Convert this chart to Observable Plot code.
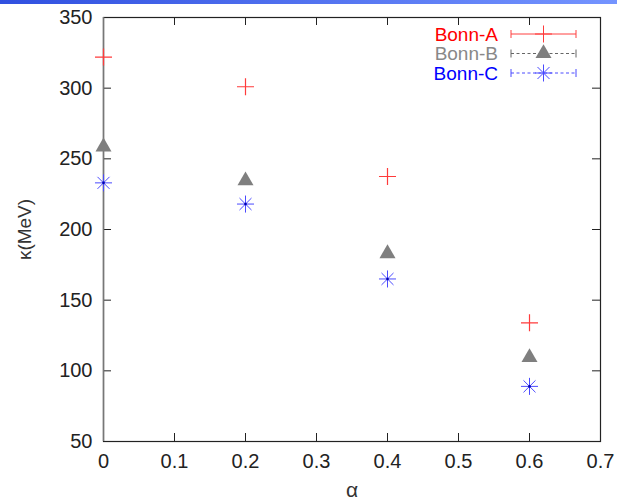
<!DOCTYPE html>
<html><head><meta charset="utf-8">
<script src="https://cdn.jsdelivr.net/npm/d3@7"></script>
<script src="https://cdn.jsdelivr.net/npm/@observablehq/plot@0.6"></script>
<style>
body{margin:0;background:#fff;}
#wrap{position:relative;width:617px;height:500px;overflow:hidden;background:#fff;}
#banner{position:absolute;left:0;top:0;width:617px;height:4px;background:linear-gradient(to right,#3050e0,#7494ff);}
#wrap svg{position:absolute;left:0;top:0;}
</style></head><body><div id="wrap"><div id="banner"></div></div>
<script>
const alphas = [0, 0.2, 0.4, 0.6];
const bonnA = [322, 301, 237.5, 134];
const bonnB = [258.5, 234.5, 183, 109.5];
const bonnC = [233, 218, 165, 89];
const seriesNames = ["Bonn-A", "Bonn-B", "Bonn-C"];
const seriesColors = ["#ff0000", "#888888", "#0000ff"];
const xTicks = [0, 0.1, 0.2, 0.3, 0.4, 0.5, 0.6, 0.7];
const yTicks = [50, 100, 150, 200, 250, 300, 350];
const xLabel = "α";
const yLabel = "κ(MeV)";

const rowsA = alphas.map((a, i) => ({a, v: bonnA[i]}));
const rowsB = alphas.map((a, i) => ({a, v: bonnB[i]}));
const rowsC = alphas.map((a, i) => ({a, v: bonnC[i]}));

const W = 617, H = 500, mT = 17, mB = 59, mL = 103, mR = 17;
const innerW = W - mL - mR, innerH = H - mT - mB, tk = 8;
const font = "'Liberation Sans', Arial, Helvetica, sans-serif";
const rPlus = 5.54, rTimes = 5.52, rTri = 5.94;

const chart = Plot.plot({
  width: W, height: H,
  marginTop: mT, marginBottom: mB, marginLeft: mL, marginRight: mR,
  style: {fontFamily: font, fontSize: "20px", color: "#222", background: "transparent"},
  x: {domain: [0, 0.7]},
  y: {domain: [50, 350]},
  marks: [
    Plot.axisX({ticks: xTicks, tickSize: 0, tickPadding: 12, label: null, fontSize: 20, tickFormat: d => d === 0 ? "0" : d3.format(".1f")(d)}),
    Plot.axisY({ticks: yTicks, tickSize: 0, tickPadding: 11, label: null, fontSize: 20}),
    Plot.tickX(xTicks, {x: d => d, insetTop: innerH - tk, stroke: "#222"}),
    Plot.tickX(xTicks, {x: d => d, insetBottom: innerH - tk, stroke: "#222"}),
    Plot.tickY(yTicks, {y: d => d, insetRight: innerW - tk, stroke: "#222"}),
    Plot.tickY(yTicks, {y: d => d, insetLeft: innerW - tk, stroke: "#222"}),
    Plot.frame({stroke: "#222", strokeWidth: 1.2}),
    Plot.ruleX([0], {stroke: "#777", strokeWidth: 1.5}),
    Plot.text([xLabel], {frameAnchor: "bottom", dy: 55, lineAnchor: "bottom", fontSize: 21, fill: "#333"}),
    Plot.text([yLabel], {frameAnchor: "left", dx: -79, rotate: -90, textAnchor: "middle", lineAnchor: "middle", fontSize: 19, fill: "#333"}),
    Plot.dot(rowsA, {x: "a", y: "v", symbol: "plus", r: rPlus, stroke: "#ff3b3b", strokeWidth: 1.2}),
    Plot.dot(rowsB, {x: "a", y: "v", symbol: "triangle", r: rTri, fill: "#7f7f7f", stroke: "none"}),
    Plot.dot(rowsC, {x: "a", y: "v", symbol: "plus", r: rPlus, stroke: "#4a4aff", strokeWidth: 1}),
    Plot.dot(rowsC, {x: "a", y: "v", symbol: "times", r: rTimes, stroke: "#4a4aff", strokeWidth: 1}),
    Plot.dot(rowsC, {x: "a", y: "v", r: 1.3, fill: "#0000b0"})
  ]
});
document.getElementById("wrap").appendChild(chart);

// Legend (gnuplot-style key, top right inside the frame)
const svg = d3.select(chart);
const g = svg.append("g").attr("font-family", font).attr("font-size", 19);
const legX0 = 511, legX1 = 576, legTextX = 498, legY0 = 34, legDY = 19.5;
const legDash = [null, "3,2.5", "3,2.5"];
const legStroke = ["#ff4040", "#666666", "#4a4aff"];
seriesNames.forEach((name, i) => {
  const y = legY0 + i * legDY;
  g.append("text").attr("x", legTextX).attr("y", y).attr("dy", "0.35em")
    .attr("text-anchor", "end").attr("fill", seriesColors[i]).text(name);
  g.append("line").attr("x1", legX0).attr("x2", legX1).attr("y1", y).attr("y2", y)
    .attr("stroke", legStroke[i]).attr("stroke-width", 1).attr("stroke-dasharray", legDash[i]);
  [legX0, legX1].forEach(x => g.append("line").attr("x1", x).attr("x2", x).attr("y1", y - 4).attr("y2", y + 4)
    .attr("stroke", legStroke[i]).attr("stroke-width", 1));
  const cx = (legX0 + legX1) / 2;
  if (i === 0) {
    g.append("path").attr("transform", `translate(${cx},${y})`)
      .attr("d", d3.symbol(d3.symbolPlus, Math.PI * rPlus * rPlus)()).attr("stroke", "#ff3b3b").attr("fill", "none");
  } else if (i === 1) {
    g.append("path").attr("transform", `translate(${cx},${y})`)
      .attr("d", d3.symbol(d3.symbolTriangle, Math.PI * rTri * rTri)()).attr("fill", "#7f7f7f");
  } else {
    g.append("path").attr("transform", `translate(${cx},${y})`)
      .attr("d", d3.symbol(d3.symbolPlus, Math.PI * rPlus * rPlus)()).attr("stroke", "#4a4aff").attr("fill", "none");
    g.append("path").attr("transform", `translate(${cx},${y})`)
      .attr("d", d3.symbol(d3.symbolTimes, Math.PI * rTimes * rTimes)()).attr("stroke", "#4a4aff").attr("fill", "none");
  }
});
</script>
</body></html>
